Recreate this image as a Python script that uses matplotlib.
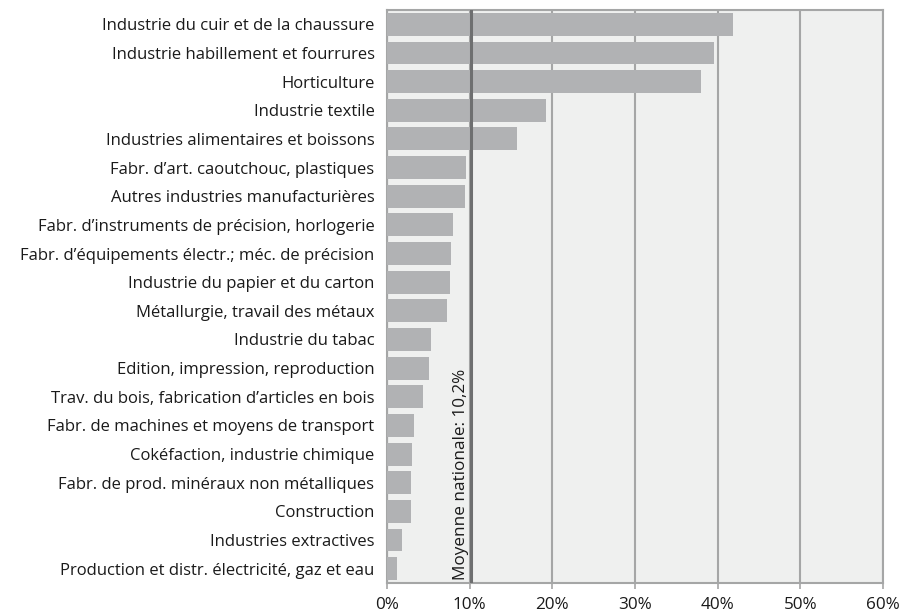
import matplotlib
matplotlib.use("Agg")
import matplotlib.pyplot as plt
from matplotlib.ticker import FuncFormatter

categories = [
    "Industrie du cuir et de la chaussure",
    "Industrie habillement et fourrures",
    "Horticulture",
    "Industrie textile",
    "Industries alimentaires et boissons",
    "Fabr. d\u2019art. caoutchouc, plastiques",
    "Autres industries manufacturi\u00e8res",
    "Fabr. d\u2019instruments de pr\u00e9cision, horlogerie",
    "Fabr. d\u2019\u00e9quipements \u00e9lectr.; m\u00e9c. de pr\u00e9cision",
    "Industrie du papier et du carton",
    "M\u00e9tallurgie, travail des m\u00e9taux",
    "Industrie du tabac",
    "Edition, impression, reproduction",
    "Trav. du bois, fabrication d\u2019articles en bois",
    "Fabr. de machines et moyens de transport",
    "Cok\u00e9faction, industrie chimique",
    "Fabr. de prod. min\u00e9raux non m\u00e9talliques",
    "Construction",
    "Industries extractives",
    "Production et distr. \u00e9lectricit\u00e9, gaz et eau",
]
values = [41.9, 39.6, 38.0, 19.2, 15.7, 9.55, 9.4, 8.0, 7.7, 7.6,
          7.25, 5.3, 5.1, 4.35, 3.3, 3.0, 2.9, 2.9, 1.8, 1.2]
national_avg = 10.2
avg_label = "Moyenne nationale: 10,2%"
xticks = [0, 10, 20, 30, 40, 50, 60]

plt.rcParams['font.family'] = ['Open Sans', 'DejaVu Sans']

fig = plt.figure(figsize=(9.02, 6.15), dpi=100)
ax = fig.add_axes([387/902, 1 - 583/615, (883-387)/902, (583-10)/615])
ax.set_facecolor('#eff0ef')

y = list(range(len(categories)))
ax.barh(y, values, height=0.8, color='#b1b2b4', zorder=3)
ax.set_ylim(len(categories) - 0.5, -0.5)
ax.set_xlim(0, 60)

ax.set_xticks(xticks)
ax.xaxis.set_major_formatter(FuncFormatter(lambda v, p: f"{v:.0f}%"))
ax.grid(axis='x', color='#a5a6a6', linewidth=1.5, zorder=1)
ax.set_yticks(y)
ax.set_yticklabels(categories, fontsize=12, color='#1a1a1a')
ax.tick_params(axis='y', length=0, pad=9)
ax.tick_params(axis='x', length=4, width=1.2, color='#a5a6a6', labelsize=12.3,
               labelcolor='#1a1a1a', pad=6)

for s in ax.spines.values():
    s.set_color('#a5a6a6')
    s.set_linewidth(1.5)

ax.axvline(national_avg, color='#6e6f70', linewidth=2.2, zorder=4)
ax.text(national_avg - 0.3, len(categories) - 0.62, avg_label, rotation=90,
        ha='right', va='bottom', fontsize=12.3, color='#1a1a1a', zorder=5)

fig.savefig("out.png", dpi=100)
